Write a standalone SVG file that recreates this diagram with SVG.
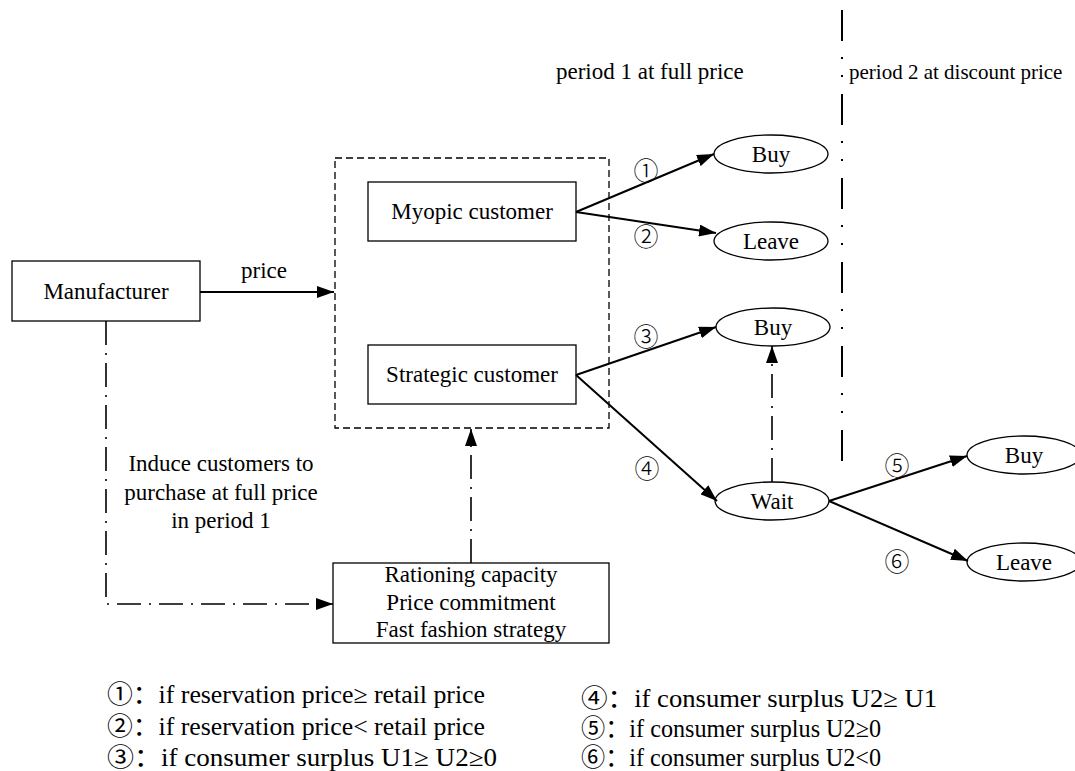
<svg xmlns="http://www.w3.org/2000/svg" width="1075" height="771" viewBox="0 0 1075 771">
<defs>
<style>
text{font-family:"Liberation Serif","Noto Sans CJK SC",serif;fill:#000}
.t{font-size:23px}
.c{font-size:25px;font-family:"Noto Sans CJK SC","Liberation Serif",serif;font-weight:300}
.lg{font-size:25px}
.box{fill:#fff;stroke:#000;stroke-width:1.3}
.el{fill:#fff;stroke:#000;stroke-width:1.3}
.sol{fill:none;stroke:#000;stroke-width:2}
.dd{fill:none;stroke:#000;stroke-width:1.6;stroke-dasharray:24 8 2 8}
.grp{fill:none;stroke:#000;stroke-width:1.3;stroke-dasharray:7 4}
.div{fill:none;stroke:#000;stroke-width:2;stroke-dasharray:31 16 2 16 2 17}
</style>
<marker id="ah" viewBox="0 0 17 12" refX="17" refY="6" markerWidth="17" markerHeight="12" markerUnits="userSpaceOnUse" orient="auto">
<path d="M0,0 L17,6 L0,12 z" fill="#000"/>
</marker>
</defs>
<rect width="1075" height="771" fill="#fff"/>

<g id="period-divider">
<line class="div" x1="842" y1="10" x2="842" y2="461"/>
<text class="t" x="556" y="79">period 1 at full price</text>
<text x="849" y="79" font-size="21">period 2 at discount price</text>
</g>

<g id="customer-group">
<rect class="grp" x="335" y="158" width="274" height="270"/>
</g>

<g id="manufacturer">
<rect class="box" x="12" y="261" width="188" height="60"/>
<text class="t" x="106" y="299" text-anchor="middle">Manufacturer</text>
</g>

<g id="myopic">
<rect class="box" x="368" y="182" width="208" height="59"/>
<text class="t" x="472" y="219" text-anchor="middle">Myopic customer</text>
</g>

<g id="strategic">
<rect class="box" x="368" y="345" width="208" height="59"/>
<text class="t" x="472" y="382" text-anchor="middle">Strategic customer</text>
</g>

<g id="strategies">
<rect class="box" x="333" y="563" width="276" height="80"/>
<text class="t" x="471" y="582" text-anchor="middle">Rationing capacity</text>
<text class="t" x="471" y="610" text-anchor="middle">Price commitment</text>
<text class="t" x="471" y="637" text-anchor="middle">Fast fashion strategy</text>
</g>

<g id="buy1">
<ellipse class="el" cx="771" cy="154" rx="57" ry="19"/>
<text class="t" x="771" y="162" text-anchor="middle">Buy</text>
</g>
<g id="leave1">
<ellipse class="el" cx="771" cy="241" rx="57" ry="19"/>
<text class="t" x="771" y="249" text-anchor="middle">Leave</text>
</g>
<g id="buy2">
<ellipse class="el" cx="773" cy="327" rx="57" ry="19"/>
<text class="t" x="773" y="335" text-anchor="middle">Buy</text>
</g>
<g id="wait">
<ellipse class="el" cx="772" cy="501" rx="57" ry="19"/>
<text class="t" x="772" y="509" text-anchor="middle">Wait</text>
</g>
<g id="buy3">
<ellipse class="el" cx="1024" cy="455" rx="57" ry="19"/>
<text class="t" x="1024" y="463" text-anchor="middle">Buy</text>
</g>
<g id="leave3">
<ellipse class="el" cx="1024" cy="562" rx="57" ry="19"/>
<text class="t" x="1024" y="570" text-anchor="middle">Leave</text>
</g>

<g id="connectors">
<line class="sol" x1="200" y1="292" x2="334" y2="292" marker-end="url(#ah)"/>
<text class="t" x="264" y="278" text-anchor="middle">price</text>
<line class="sol" x1="576" y1="212" x2="714" y2="154" marker-end="url(#ah)"/>
<line class="sol" x1="576" y1="212" x2="716" y2="233" marker-end="url(#ah)"/>
<line class="sol" x1="576" y1="375" x2="716" y2="327" marker-end="url(#ah)"/>
<line class="sol" x1="576" y1="375" x2="717" y2="501" marker-end="url(#ah)"/>
<line class="sol" x1="829" y1="501" x2="967" y2="456" marker-end="url(#ah)"/>
<line class="sol" x1="829" y1="501" x2="968" y2="561" marker-end="url(#ah)"/>
<line class="dd" x1="772" y1="482" x2="772" y2="346" marker-end="url(#ah)"/>
<line class="dd" x1="471" y1="563" x2="471" y2="429" marker-end="url(#ah)"/>
<polyline class="dd" points="106,321 106,604 333,604" marker-end="url(#ah)"/>
<text class="c" x="646" y="180" text-anchor="middle">①</text>
<text class="c" x="646" y="246" text-anchor="middle">②</text>
<text class="c" x="646" y="346" text-anchor="middle">③</text>
<text class="c" x="647" y="478" text-anchor="middle">④</text>
<text class="c" x="897" y="475" text-anchor="middle">⑤</text>
<text class="c" x="897" y="571" text-anchor="middle">⑥</text>
<text class="t" x="221" y="471" text-anchor="middle">Induce customers to</text>
<text class="t" x="221" y="500" text-anchor="middle">purchase at full price</text>
<text class="t" x="221" y="528" text-anchor="middle">in period 1</text>
</g>

<g id="legend">
<text class="lg" x="107" y="703" textLength="378" lengthAdjust="spacingAndGlyphs">①：if reservation price≥ retail price</text>
<text class="lg" x="107" y="735" textLength="378" lengthAdjust="spacingAndGlyphs">②：if reservation price&lt; retail price</text>
<text class="lg" x="107" y="766" textLength="390" lengthAdjust="spacingAndGlyphs">③：if consumer surplus U1≥ U2≥0</text>
<text class="lg" x="581" y="707" textLength="356" lengthAdjust="spacingAndGlyphs">④：if consumer surplus U2≥ U1</text>
<text class="lg" x="581" y="737" textLength="300" lengthAdjust="spacingAndGlyphs">⑤：if consumer surplus U2≥0</text>
<text class="lg" x="581" y="766" textLength="300" lengthAdjust="spacingAndGlyphs">⑥：if consumer surplus U2&lt;0</text>
</g>
</svg>
